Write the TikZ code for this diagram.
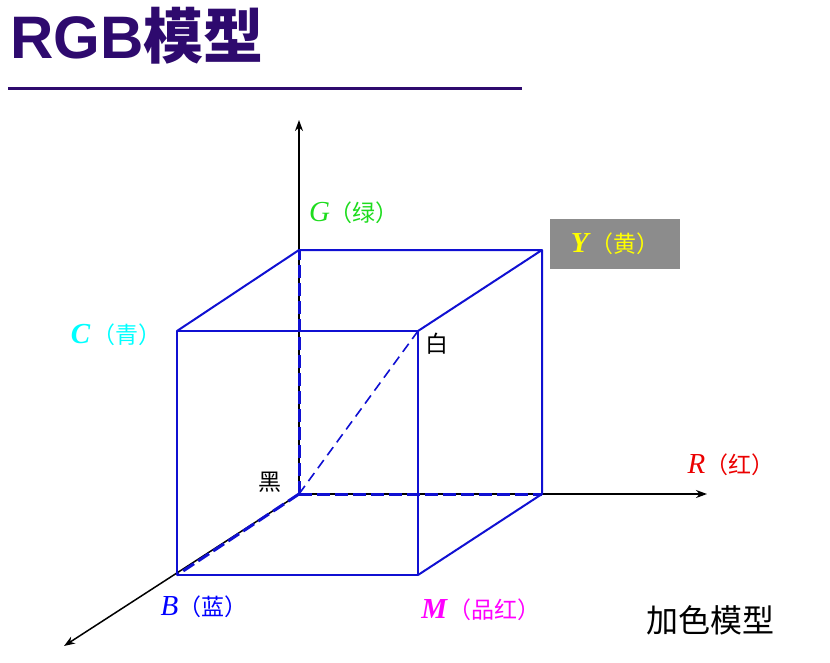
\documentclass[tikz,border=0pt]{standalone}
\usepackage{fontspec}
\setmainfont{Liberation Serif}
\newfontfamily\cjkf{Noto Sans CJK SC}
\newfontfamily\arialf{Liberation Sans}
\usetikzlibrary{arrows.meta}
\definecolor{titlepurple}{RGB}{46,10,110}
\definecolor{cubeblue}{RGB}{16,16,210}
\definecolor{ggreen}{RGB}{30,220,30}
\definecolor{boxgray}{RGB}{140,140,140}
\definecolor{ccyan}{RGB}{0,255,255}
\definecolor{cyellow}{RGB}{255,255,0}
\definecolor{cmagenta}{RGB}{255,0,255}
\definecolor{cred}{RGB}{235,0,0}
\definecolor{cblue}{RGB}{0,0,255}
\newcommand\labL[1]{{\fontsize{29}{29}\selectfont\itshape #1}}
\newcommand\labLB[1]{{\fontsize{29}{29}\selectfont\bfseries\itshape #1}}
\newcommand\labC[1]{{\cjkf\fontsize{23}{23}\selectfont #1}}
\begin{document}
\begin{tikzpicture}[x=1pt,y=-1pt,
  axis/.style={black, line width=1.5pt, -{Stealth[length=11pt,width=8pt,inset=3.5pt]}},
  edge/.style={draw=cubeblue, line width=2pt, line join=round},
  hidden/.style={draw=cubeblue, line width=3pt, dash pattern=on 13pt off 5pt},
  diag/.style={draw=cubeblue, line width=1.6pt, dash pattern=on 10pt off 6pt},
  lbl/.style={inner sep=0pt, anchor=center}]
\useasboundingbox (0,0) rectangle (830,662);
% title
\node[anchor=base west, inner sep=0pt, text=titlepurple] (title) at (10,58)
  {\fontsize{60}{60}\selectfont\arialf\bfseries RGB\cjkf\bfseries 模型};
\coordinate (rl) at (8,88);
\coordinate (rr) at (522,88);
\draw[titlepurple, line width=3pt] (rl) -- (rr);
% vertices
\coordinate (O) at (299,494);
\coordinate (G) at (299,250);
\coordinate (Y) at (542,250);
\coordinate (R) at (542,494);
\coordinate (C) at (177,331);
\coordinate (W) at (418,331);
\coordinate (M) at (418,575);
\coordinate (B) at (177,575);
\coordinate (Gt) at (299,120);
\coordinate (Rt) at (707,494);
\coordinate (Bt) at (64,646);
% axes
\draw[axis] (O) -- (Gt);
\draw[axis] (O) -- (Rt);
\draw[axis] (O) -- (Bt);
% hidden edges
\draw[hidden] (O) -- (G);
\draw[hidden] (O) -- (R);
\draw[hidden] (O) -- (B);
\draw[diag] (O) -- (W);
% visible edges
\draw[edge] (C) -- (W) -- (M) -- (B) -- cycle;
\draw[edge] (C) -- (G) -- (Y) -- (W);
\draw[edge] (Y) -- (R) -- (M);
% labels
\node[lbl, text=ggreen] (gl) at (354,213) {\labL{G}\labC{（绿）}};
\node[fill=boxgray, minimum width=130pt, minimum height=50pt, inner sep=0pt] (yl) at (615,244)
  {\color{cyellow}\labLB{Y}\,\labC{（黄）}};
\node[lbl, text=ccyan] (cl) at (116,335) {\labLB{C}\,\labC{（青）}};
\node[lbl] (wl) at (437,344) {\labC{白}};
\node[lbl] (kl) at (270,482) {\labC{黑}};
\node[lbl, text=cred] (rlab) at (731,465) {\labL{R}\labC{（红）}};
\node[lbl, text=cblue] (bl) at (204,607) {\labL{B}\labC{（蓝）}};
\node[lbl, text=cmagenta] (ml) at (481,610) {\labLB{M}\,\labC{（品红）}};
\node[lbl] (add) at (710,620) {{\cjkf\fontsize{32}{32}\selectfont 加色模型}};
\end{tikzpicture}
\end{document}
